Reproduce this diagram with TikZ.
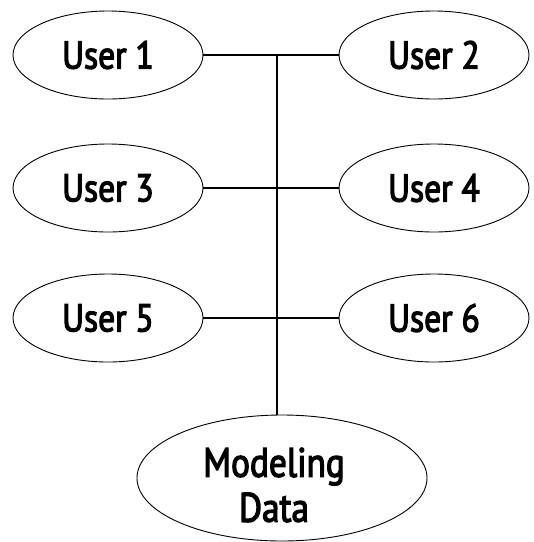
\documentclass[tikz,border=0pt]{standalone}
\usepackage{fontspec}
\setmainfont[FakeStretch=0.86,FakeBold=3]{PT Sans}
\usetikzlibrary{shapes.geometric}
\tikzset{
  user/.style={ellipse, draw, line width=0.9pt, minimum width=190pt, minimum height=88pt,
    inner sep=0pt, font=\fontsize{39}{42}\selectfont},
  store/.style={ellipse, draw, line width=0.9pt, minimum width=290pt, minimum height=126pt,
    inner sep=0pt},
  storetext/.style={align=center, inner sep=0pt, font=\fontsize{41}{45}\selectfont},
  link/.style={line width=1.5pt}
}
\begin{document}
\begin{tikzpicture}[x=1pt,y=-1pt]
  \useasboundingbox (0,0) rectangle (534,542);
  % user nodes, two columns
  \node[user] (u1) at (108,55) {User 1};
  \node[user] (u2) at (434,55) {User 2};
  \node[user] (u3) at (108,188) {User 3};
  \node[user] (u4) at (434,188) {User 4};
  \node[user] (u5) at (108,318) {User 5};
  \node[user] (u6) at (434,318) {User 6};
  % shared data store, caption sits a little below centre
  \node[store] (md) at (282,478) {};
  \node[storetext] (mdtext) at (274,485) {Modeling\\Data};
  % bus junction
  \coordinate (j1) at (277,55);
  % horizontal links
  \draw[link] (u1.east) -- (u2.west);
  \draw[link] (u3.east) -- (u4.west);
  \draw[link] (u5.east) -- (u6.west);
  % vertical bus down to the store
  \draw[link] (j1) -- (j1 |- md.north);
\end{tikzpicture}
\end{document}
